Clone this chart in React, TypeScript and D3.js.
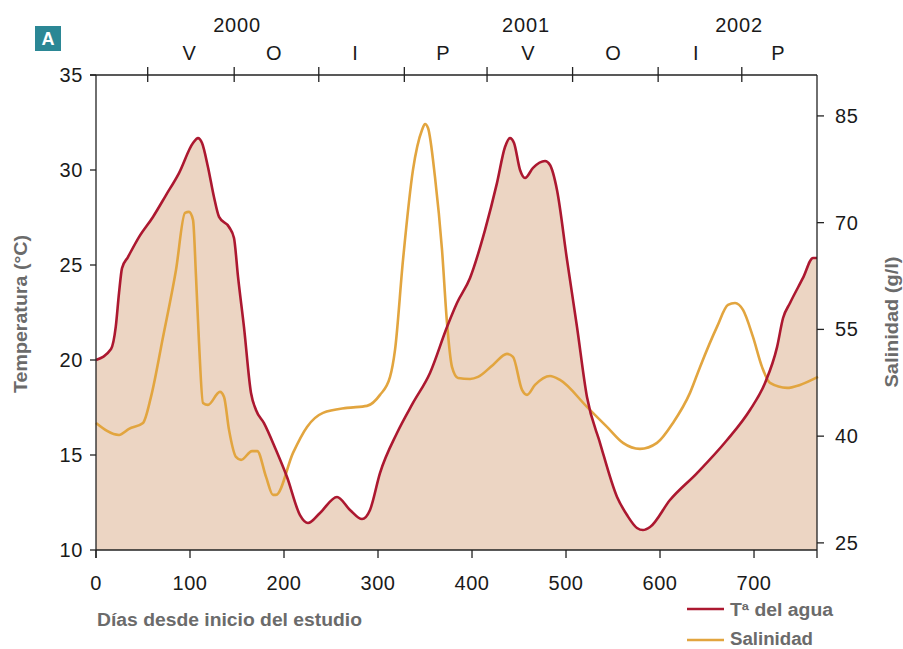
import React from "react";
import * as d3 from "d3";

// ---- data ----
const tempDays = [0,16,21,24.5,27.7,34,45.7,60.6,74.5,88.3,103.2,108.5,112.8,119.1,125.5,130.9,141.5,146.8,151.1,157.4,164.9,170.2,178.7,191.5,203.2,217,225.5,238.3,256.4,270.2,283,291.5,302.1,320.2,337.2,355.3,373.4,384,397.9,413.8,426.6,435.1,440.4,444.7,451.1,456.4,464.9,477.7,483,490.4,501.1,511.7,522.3,536.2,554.3,564.9,575.5,581.9,589.4,610.6,639.4,671.3,695.7,711.7,724.5,730.9,738.3,752.1,762.8,767];
const tempValues = [20.0,20.58,21.74,23.53,24.84,25.42,26.47,27.53,28.68,29.84,31.42,31.68,31.42,30.16,28.58,27.53,27.0,26.42,24.37,21.74,18.26,17.37,16.68,15.26,13.84,11.84,11.42,11.95,12.79,12.11,11.63,12.11,14.05,16.16,17.74,19.32,21.74,23.0,24.32,26.84,29.32,31.21,31.68,31.42,30.0,29.58,30.11,30.47,30.26,28.95,25.26,21.74,18.05,15.63,12.79,11.84,11.16,11.05,11.21,12.63,14.05,15.79,17.37,18.79,20.68,22.21,23.0,24.32,25.37,25.37];

const salDays = [0,24.5,35.1,50,58.5,71.3,85.1,94.7,98.9,103.2,106.4,109.6,113.8,119.1,131.9,136.2,141.5,148.9,154.3,166,171.5,180.9,188.3,191.5,209.6,224.5,241.5,267,288.3,302.1,312.8,318.1,326.6,337.2,346.8,350,353.2,360.6,368.1,373.4,378.7,385.1,397.9,406.4,422.3,437.2,443.6,453.2,458.5,467,483,493.6,522.3,543.6,560.6,578.7,596.8,613.8,631.9,642.6,660.6,672.3,679.8,688.3,698.9,708.5,717,735.1,748.9,768];
const salValues = [41.86,40.17,41.02,41.86,45.51,53.94,63.36,71.37,71.51,70.39,62.38,53.1,44.67,44.39,46.22,45.51,40.88,37.08,36.66,37.9,37.9,34.27,31.74,31.74,37.65,41.3,43.27,43.97,44.25,45.8,48.32,52.12,64.76,77.41,83.03,83.87,83.31,76.43,66.17,55.91,49.73,48.18,48.04,48.32,50.01,51.56,51.13,46.5,45.8,47.2,48.46,47.9,44.11,41.3,39.05,38.21,39.05,41.86,46.08,49.73,55.35,58.44,58.72,57.74,53.94,49.73,47.48,46.78,47.2,48.32];

const xTicks = [0,100,200,300,400,500,600,700];
const tempTicks = [10,15,20,25,30,35];
const salTicks = [25,40,55,70,85];
const seasonTickDays = [55,147,237,328,416,507,598,687];
const seasonLabels = ["V","O","I","P","V","O","I","P"];
const seasonLabelDays = [99,189,275.5,369,459.6,550,638,725.5];
const yearLabels = ["2000","2001","2002"];
const yearLabelDays = [150,457.4,684];

const RED = "#ac1830";
const ORANGE = "#e2a53f";
const FILL = "#ecd5c3";
const GRAY = "#6b6b6b";
const FONT = "'Liberation Sans', Arial, sans-serif";

export default function App() {
  const W = 903, H = 649;
  const left = 96, right = 817, top = 75, bottom = 550;
  const x = d3.scaleLinear().domain([0, 767]).range([left, right]);
  const yT = d3.scaleLinear().domain([10, 35]).range([bottom, top]);
  const yS = d3.scaleLinear().domain([24, 90.75]).range([bottom, top]);

  const tData = tempDays.map((d, i) => [d, tempValues[i]] as [number, number]);
  const sData = salDays.map((d, i) => [d, salValues[i]] as [number, number]);

  const tLine = d3.line<[number, number]>().x(d => x(d[0])).y(d => yT(d[1])).curve(d3.curveMonotoneX);
  const tArea = d3.area<[number, number]>().x(d => x(d[0])).y0(bottom).y1(d => yT(d[1])).curve(d3.curveMonotoneX);
  const sLine = d3.line<[number, number]>().x(d => x(d[0])).y(d => yS(d[1])).curve(d3.curveMonotoneX);

  const tickFont = { fontFamily: FONT, fontSize: 20, fill: "#1a1a1a" } as const;
  const titleFont = { fontFamily: FONT, fontSize: 18, fontWeight: 700, fill: GRAY } as const;

  return (
    <svg width={W} height={H} style={{ position: "absolute", left: 0, top: 0, background: "#fff" }}>
      <path d={tArea(tData) || ""} fill={FILL} />
      <path d={sLine(sData) || ""} fill="none" stroke={ORANGE} strokeWidth={2.6} strokeLinejoin="round" />
      <path d={tLine(tData) || ""} fill="none" stroke={RED} strokeWidth={2.6} strokeLinejoin="round" />

      {/* axes frame */}
      <g stroke="#222" strokeWidth={1.3} fill="none">
        <line x1={left} x2={left} y1={top} y2={bottom + 8} />
        <line x1={left} x2={right} y1={bottom} y2={bottom} />
        <line x1={left - 6} x2={right} y1={top} y2={top} />
        <line x1={right} x2={right} y1={top} y2={bottom + 8} />
        {xTicks.map(t => <line key={"xt" + t} x1={x(t)} x2={x(t)} y1={bottom} y2={bottom + 8} />)}
        {tempTicks.map(t => <line key={"yt" + t} x1={left - 6} x2={left} y1={yT(t)} y2={yT(t)} />)}
        {salTicks.map(t => <line key={"st" + t} x1={right} x2={right + 7} y1={yS(t)} y2={yS(t)} />)}
        {seasonTickDays.map(t => <line key={"se" + t} x1={x(t)} x2={x(t)} y1={top - 8} y2={top + 7} />)}
      </g>

      {xTicks.map(t => (
        <text key={"xl" + t} x={x(t)} y={590} textAnchor="middle" style={tickFont} letterSpacing={0.6}>{t}</text>
      ))}
      {tempTicks.map(t => (
        <text key={"yl" + t} x={83} y={yT(t) + 7} textAnchor="end" style={tickFont} letterSpacing={0.6}>{t}</text>
      ))}
      {salTicks.map(t => (
        <text key={"sl" + t} x={835} y={yS(t) + 7} textAnchor="start" style={tickFont} letterSpacing={0.6}>{t}</text>
      ))}
      {seasonLabels.map((s, i) => (
        <text key={"sn" + i} x={x(seasonLabelDays[i])} y={60} textAnchor="middle" style={tickFont}>{s}</text>
      ))}
      {yearLabels.map((s, i) => (
        <text key={"yr" + i} x={x(yearLabelDays[i])} y={32} textAnchor="middle" style={tickFont} letterSpacing={0.8}>{s}</text>
      ))}

      {/* panel label */}
      <rect x={35} y={26} width={26} height={25} fill="#2b8795" />
      <text x={48} y={45} textAnchor="middle" style={{ fontFamily: FONT, fontSize: 18, fontWeight: 700, fill: "#fff" }}>A</text>

      {/* axis titles */}
      <text x={97} y={626} style={titleFont} textLength={265} lengthAdjust="spacingAndGlyphs">Días desde inicio del estudio</text>
      <text transform="translate(27,314) rotate(-90)" x={-79} style={titleFont} textLength={158} lengthAdjust="spacingAndGlyphs">Temperatura (°C)</text>
      <text transform="translate(898,322) rotate(-90)" x={-65.5} style={titleFont} textLength={131} lengthAdjust="spacingAndGlyphs">Salinidad (g/l)</text>

      {/* legend */}
      <line x1={687} x2={724} y1={609} y2={609} stroke={RED} strokeWidth={2.6} />
      <text x={730} y={616} style={titleFont} textLength={103} lengthAdjust="spacingAndGlyphs">Tª del agua</text>
      <line x1={687} x2={724} y1={640} y2={640} stroke={ORANGE} strokeWidth={2.6} />
      <text x={730} y={645} style={titleFont} textLength={83} lengthAdjust="spacingAndGlyphs">Salinidad</text>
    </svg>
  );
}
